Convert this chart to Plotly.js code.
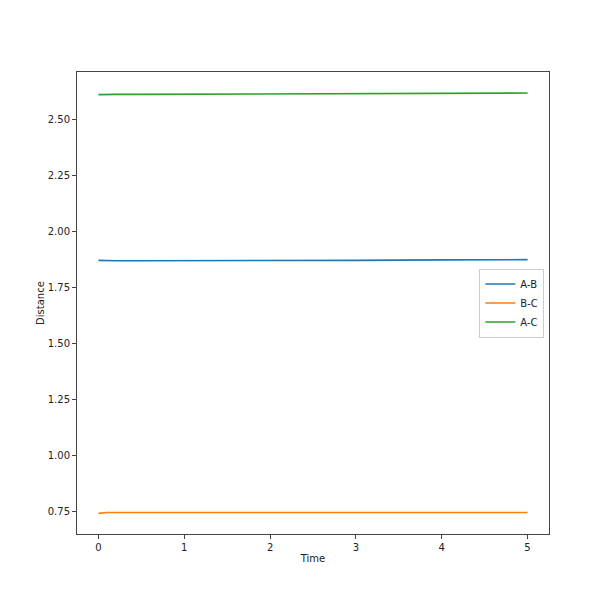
<!DOCTYPE html>
<html>
<head>
<meta charset="utf-8">
<script src="https://cdn.plot.ly/plotly-3.0.1.min.js"></script>
<style>html,body{margin:0;padding:0;background:#fff;}#chart{width:610px;height:600px;}</style>
</head>
<body>
<div id="chart"></div>
<script>
const time = [0, 0.05, 0.1, 0.2, 0.5, 1, 2, 3, 4, 5];
const distAB = [1.870, 1.869, 1.868, 1.868, 1.868, 1.868, 1.869, 1.870, 1.872, 1.873];
const distBC = [0.740, 0.742, 0.744, 0.744, 0.744, 0.744, 0.744, 0.744, 0.744, 0.744];
const distAC = [2.610, 2.611, 2.611, 2.611, 2.611, 2.612, 2.613, 2.614, 2.616, 2.617];
const seriesNames = ['A-B', 'B-C', 'A-C'];
const colors = ['#1f77b4', '#ff7f0e', '#2ca02c'];
const values = [distAB, distBC, distAC];

const traces = values.map((v, i) => ({
  x: time, y: v, type: 'scatter', mode: 'lines', name: seriesNames[i],
  line: {color: colors[i], width: 1.6}
}));

const axisCommon = {
  showline: true, mirror: true, linecolor: '#444', linewidth: 1,
  ticks: 'outside', ticklen: 4, tickcolor: '#444', showgrid: false, zeroline: false,
  tickfont: {family: 'DejaVu Sans', size: 10, color: '#222'}
};

const layout = {
  width: 610, height: 600,
  margin: {l: 77, r: 61, t: 72, b: 66},
  paper_bgcolor: '#fff', plot_bgcolor: '#fff',
  font: {family: 'DejaVu Sans', size: 10, color: '#222'},
  xaxis: Object.assign({}, axisCommon, {
    range: [-0.25, 5.25], tick0: 0, dtick: 1,
    title: {text: 'Time', font: {size: 10}, standoff: 2}
  }),
  yaxis: Object.assign({}, axisCommon, {
    range: [0.648, 2.711], tick0: 0.75, dtick: 0.25, tickformat: '.2f',
    title: {text: 'Distance', font: {size: 10}, standoff: 1}
  }),
  legend: {
    x: 0.99, xanchor: 'right', y: 0.5, yanchor: 'middle',
    bgcolor: '#fff', bordercolor: '#ccc', borderwidth: 1,
    font: {size: 10}, tracegroupgap: 0, itemwidth: 30
  },
  showlegend: true
};

Plotly.newPlot('chart', traces, layout, {displayModeBar: false, staticPlot: true});
</script>
</body>
</html>
